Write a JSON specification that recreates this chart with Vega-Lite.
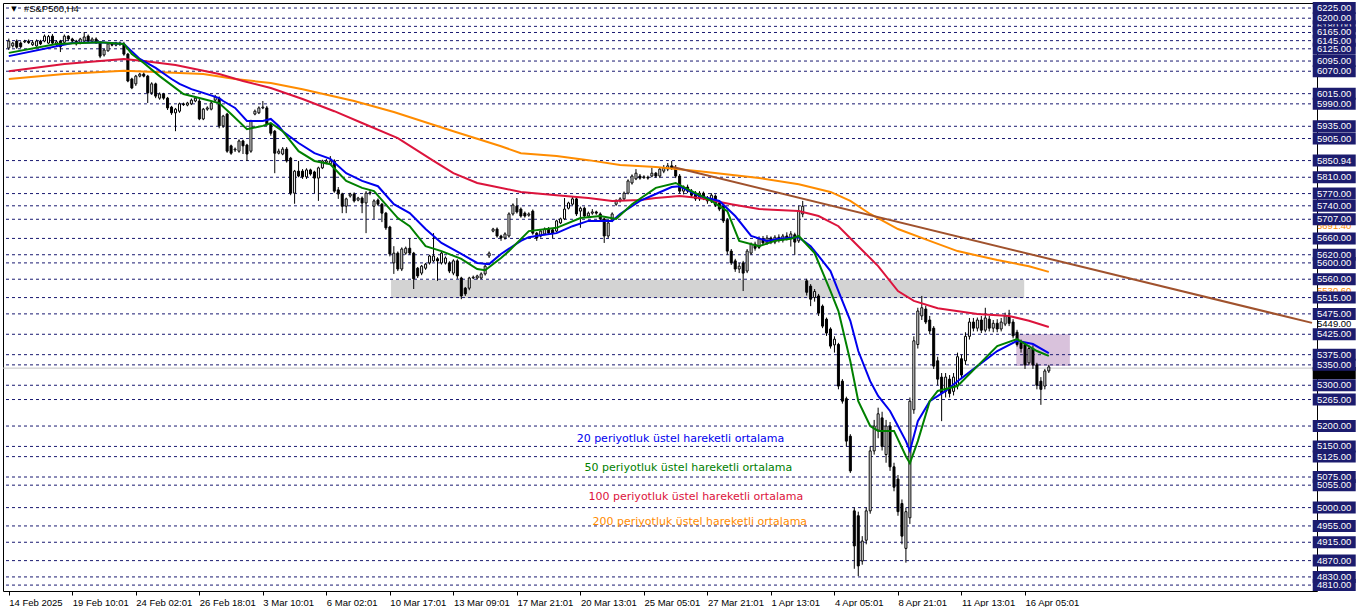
{
"$schema":"https://vega.github.io/schema/vega-lite/v6.json",
"width":1314,"height":588,
"padding":{"left":2,"top":2,"right":0,"bottom":0},
"autosize":{"type":"pad"},
"background":"white",
"config":{"view":{"stroke":"black","strokeWidth":1},"axisY":{"disable":true}},
"datasets":{
"zoneGray":[{"i":96.3,"i2":255.8,"p":5514,"p2":5558}],
"zonePurple":[{"i":253.8,"i2":267.3,"p":5347,"p2":5425}],
"levels":[{"p":6225,"t":"6225.00"},{"p":6200,"t":"6200.00"},{"p":6165,"t":"6165.00"},{"p":6145,"t":"6145.00"},{"p":6125,"t":"6125.00"},{"p":6095,"t":"6095.00"},{"p":6070,"t":"6070.00"},{"p":6015,"t":"6015.00"},{"p":5990,"t":"5990.00"},{"p":5935,"t":"5935.00"},{"p":5905,"t":"5905.00"},{"p":5850.94,"t":"5850.94"},{"p":5810,"t":"5810.00"},{"p":5770,"t":"5770.00"},{"p":5740,"t":"5740.00"},{"p":5707,"t":"5707.00"},{"p":5660,"t":"5660.00"},{"p":5620,"t":"5620.00"},{"p":5600,"t":"5600.00"},{"p":5560,"t":"5560.00"},{"p":5515,"t":"5515.00"},{"p":5475,"t":"5475.00"},{"p":5425,"t":"5425.00"},{"p":5375,"t":"5375.00"},{"p":5350,"t":"5350.00"},{"p":5300,"t":"5300.00"},{"p":5265,"t":"5265.00"},{"p":5200,"t":"5200.00"},{"p":5150,"t":"5150.00"},{"p":5125,"t":"5125.00"},{"p":5075,"t":"5075.00"},{"p":5055,"t":"5055.00"},{"p":5000,"t":"5000.00"},{"p":4955,"t":"4955.00"},{"p":4915,"t":"4915.00"},{"p":4870,"t":"4870.00"},{"p":4830,"t":"4830.00"},{"p":4810,"t":"4810.00"}],
"hidden":[{"p":6180,"t":"6180.00"}],
"bid":[{"p":5342}],
"cur":[{"p":5330}],
"oranget":[{"p":5691.4,"t":"5691.40"},{"p":5530.6,"t":"5530.60"}],
"blackt":[{"p":5449,"t":"5449.00"}],
"trend":[{"i":167.3,"p":5835},{"i":328.3,"p":5453}],
"ann":[{"i":143.05,"p":5168,"s":"e20","t":"20 periyotluk üstel hareketli ortalama"},{"i":145.05,"p":5097,"s":"e50","t":"50 periyotluk üstel hareketli ortalama"},{"i":146.05,"p":5026,"s":"e100","t":"100 periyotluk üstel hareketli ortalama"},{"i":147.05,"p":4965,"s":"e200","t":"200 periyotluk üstel hareketli ortalama"}],
"tri":[{"i":1.3,"p":6222.6,"t":"▼"}],
"ttl":[{"i":3.8,"p":6222.6,"t":"#S&P500,H4"}],
"ema":[
{"s":"e200","i":0,"v":6051},{"s":"e200","i":14,"v":6063},{"s":"e200","i":29,"v":6071},{"s":"e200","i":37,"v":6068},{"s":"e200","i":49,"v":6063},{"s":"e200","i":57,"v":6051},{"s":"e200","i":66,"v":6041},{"s":"e200","i":74,"v":6026},{"s":"e200","i":87,"v":5997},{"s":"e200","i":97,"v":5970},{"s":"e200","i":112,"v":5923},{"s":"e200","i":124,"v":5886},{"s":"e200","i":129,"v":5869},{"s":"e200","i":138,"v":5862},{"s":"e200","i":146,"v":5852},{"s":"e200","i":154,"v":5840},{"s":"e200","i":163,"v":5835},{"s":"e200","i":174,"v":5825},{"s":"e200","i":189,"v":5808},{"s":"e200","i":199,"v":5793},{"s":"e200","i":207,"v":5774},{"s":"e200","i":212,"v":5752},{"s":"e200","i":217,"v":5720},{"s":"e200","i":224,"v":5683},{"s":"e200","i":232,"v":5654},{"s":"e200","i":239,"v":5629},{"s":"e200","i":249,"v":5607},{"s":"e200","i":257,"v":5592},{"s":"e200","i":262,"v":5578},
{"s":"e100","i":0,"v":6070},{"s":"e100","i":14,"v":6088},{"s":"e100","i":29,"v":6100},{"s":"e100","i":34,"v":6095},{"s":"e100","i":42,"v":6085},{"s":"e100","i":53,"v":6063},{"s":"e100","i":59,"v":6046},{"s":"e100","i":66,"v":6029},{"s":"e100","i":74,"v":6002},{"s":"e100","i":82,"v":5972},{"s":"e100","i":89,"v":5943},{"s":"e100","i":98,"v":5906},{"s":"e100","i":107,"v":5850},{"s":"e100","i":112,"v":5820},{"s":"e100","i":118,"v":5796},{"s":"e100","i":122,"v":5788},{"s":"e100","i":129,"v":5774},{"s":"e100","i":138,"v":5766},{"s":"e100","i":146,"v":5759},{"s":"e100","i":152,"v":5752},{"s":"e100","i":159,"v":5754},{"s":"e100","i":163,"v":5759},{"s":"e100","i":169,"v":5764},{"s":"e100","i":174,"v":5759},{"s":"e100","i":182,"v":5744},{"s":"e100","i":189,"v":5732},{"s":"e100","i":199,"v":5727},{"s":"e100","i":204,"v":5715},{"s":"e100","i":209,"v":5690},{"s":"e100","i":214,"v":5641},{"s":"e100","i":219,"v":5592},{"s":"e100","i":224,"v":5531},{"s":"e100","i":228,"v":5507},{"s":"e100","i":234,"v":5489},{"s":"e100","i":244,"v":5475},{"s":"e100","i":252,"v":5470},{"s":"e100","i":257,"v":5458},{"s":"e100","i":262,"v":5443},
{"s":"e20","i":0,"v":6107},{"s":"e20","i":16,"v":6139},{"s":"e20","i":23,"v":6141},{"s":"e20","i":29,"v":6137},{"s":"e20","i":33,"v":6100},{"s":"e20","i":37,"v":6078},{"s":"e20","i":41,"v":6051},{"s":"e20","i":43,"v":6039},{"s":"e20","i":46,"v":6026},{"s":"e20","i":49,"v":6017},{"s":"e20","i":53,"v":6004},{"s":"e20","i":54,"v":5997},{"s":"e20","i":57,"v":5980},{"s":"e20","i":60,"v":5948},{"s":"e20","i":64,"v":5948},{"s":"e20","i":66,"v":5953},{"s":"e20","i":68,"v":5936},{"s":"e20","i":69,"v":5923},{"s":"e20","i":73,"v":5894},{"s":"e20","i":77,"v":5869},{"s":"e20","i":81,"v":5855},{"s":"e20","i":85,"v":5820},{"s":"e20","i":89,"v":5801},{"s":"e20","i":93,"v":5788},{"s":"e20","i":97,"v":5744},{"s":"e20","i":101,"v":5722},{"s":"e20","i":105,"v":5683},{"s":"e20","i":109,"v":5649},{"s":"e20","i":114,"v":5622},{"s":"e20","i":118,"v":5600},{"s":"e20","i":121,"v":5597},{"s":"e20","i":124,"v":5622},{"s":"e20","i":129,"v":5654},{"s":"e20","i":131,"v":5663},{"s":"e20","i":134,"v":5668},{"s":"e20","i":138,"v":5673},{"s":"e20","i":142,"v":5690},{"s":"e20","i":146,"v":5703},{"s":"e20","i":149,"v":5703},{"s":"e20","i":152,"v":5703},{"s":"e20","i":154,"v":5720},{"s":"e20","i":159,"v":5752},{"s":"e20","i":163,"v":5769},{"s":"e20","i":167,"v":5786},{"s":"e20","i":169,"v":5788},{"s":"e20","i":174,"v":5764},{"s":"e20","i":179,"v":5752},{"s":"e20","i":183,"v":5715},{"s":"e20","i":187,"v":5666},{"s":"e20","i":191,"v":5654},{"s":"e20","i":194,"v":5659},{"s":"e20","i":199,"v":5663},{"s":"e20","i":202,"v":5641},{"s":"e20","i":204,"v":5617},{"s":"e20","i":207,"v":5580},{"s":"e20","i":209,"v":5531},{"s":"e20","i":212,"v":5458},{"s":"e20","i":214,"v":5384},{"s":"e20","i":217,"v":5310},{"s":"e20","i":219,"v":5274},{"s":"e20","i":222,"v":5237},{"s":"e20","i":224,"v":5200},{"s":"e20","i":226,"v":5163},{"s":"e20","i":227,"v":5139},{"s":"e20","i":229,"v":5212},{"s":"e20","i":232,"v":5261},{"s":"e20","i":236,"v":5286},{"s":"e20","i":239,"v":5310},{"s":"e20","i":244,"v":5347},{"s":"e20","i":249,"v":5384},{"s":"e20","i":254,"v":5409},{"s":"e20","i":258,"v":5401},{"s":"e20","i":262,"v":5379},
{"s":"e50","i":0,"v":6115},{"s":"e50","i":12,"v":6137},{"s":"e50","i":23,"v":6141},{"s":"e50","i":29,"v":6137},{"s":"e50","i":31,"v":6112},{"s":"e50","i":34,"v":6090},{"s":"e50","i":37,"v":6066},{"s":"e50","i":38,"v":6058},{"s":"e50","i":44,"v":6014},{"s":"e50","i":49,"v":6002},{"s":"e50","i":53,"v":5992},{"s":"e50","i":56,"v":5965},{"s":"e50","i":60,"v":5928},{"s":"e50","i":64,"v":5936},{"s":"e50","i":66,"v":5943},{"s":"e50","i":69,"v":5923},{"s":"e50","i":73,"v":5874},{"s":"e50","i":77,"v":5850},{"s":"e50","i":81,"v":5842},{"s":"e50","i":85,"v":5801},{"s":"e50","i":89,"v":5784},{"s":"e50","i":92,"v":5776},{"s":"e50","i":98,"v":5710},{"s":"e50","i":101,"v":5690},{"s":"e50","i":105,"v":5641},{"s":"e50","i":109,"v":5629},{"s":"e50","i":114,"v":5610},{"s":"e50","i":118,"v":5585},{"s":"e50","i":120,"v":5582},{"s":"e50","i":124,"v":5612},{"s":"e50","i":126,"v":5629},{"s":"e50","i":131,"v":5678},{"s":"e50","i":138,"v":5686},{"s":"e50","i":144,"v":5710},{"s":"e50","i":149,"v":5715},{"s":"e50","i":153,"v":5708},{"s":"e50","i":157,"v":5744},{"s":"e50","i":163,"v":5784},{"s":"e50","i":168,"v":5796},{"s":"e50","i":172,"v":5776},{"s":"e50","i":177,"v":5752},{"s":"e50","i":181,"v":5727},{"s":"e50","i":184,"v":5654},{"s":"e50","i":189,"v":5641},{"s":"e50","i":193,"v":5654},{"s":"e50","i":197,"v":5659},{"s":"e50","i":199,"v":5666},{"s":"e50","i":203,"v":5624},{"s":"e50","i":207,"v":5531},{"s":"e50","i":209,"v":5482},{"s":"e50","i":212,"v":5359},{"s":"e50","i":214,"v":5261},{"s":"e50","i":217,"v":5200},{"s":"e50","i":219,"v":5188},{"s":"e50","i":223,"v":5188},{"s":"e50","i":226,"v":5126},{"s":"e50","i":227,"v":5109},{"s":"e50","i":229,"v":5163},{"s":"e50","i":232,"v":5261},{"s":"e50","i":234,"v":5286},{"s":"e50","i":239,"v":5298},{"s":"e50","i":244,"v":5347},{"s":"e50","i":249,"v":5396},{"s":"e50","i":254,"v":5413},{"s":"e50","i":259,"v":5384},{"s":"e50","i":262,"v":5372}
],
"candles":[
{"i":0,"o":6127,"h":6150,"l":6122,"c":6144},{"i":1,"o":6132,"h":6142,"l":6128,"c":6139},{"i":2,"o":6144,"h":6148,"l":6125,"c":6129},{"i":3,"o":6139,"h":6143,"l":6127,"c":6130},{"i":4,"o":6142,"h":6147,"l":6139,"c":6144},{"i":5,"o":6144,"h":6148,"l":6137,"c":6140},{"i":6,"o":6135,"h":6146,"l":6132,"c":6140},{"i":7,"o":6132,"h":6148,"l":6130,"c":6144},{"i":8,"o":6144,"h":6147,"l":6134,"c":6137},{"i":9,"o":6144,"h":6160,"l":6141,"c":6156},
{"i":10,"o":6139,"h":6159,"l":6137,"c":6155},{"i":11,"o":6156,"h":6161,"l":6135,"c":6139},{"i":12,"o":6137,"h":6146,"l":6132,"c":6142},{"i":13,"o":6144,"h":6147,"l":6117,"c":6130},{"i":14,"o":6141,"h":6160,"l":6138,"c":6156},{"i":15,"o":6156,"h":6158,"l":6145,"c":6149},{"i":16,"o":6149,"h":6152,"l":6140,"c":6144},{"i":17,"o":6144,"h":6147,"l":6133,"c":6137},{"i":18,"o":6139,"h":6152,"l":6136,"c":6149},{"i":19,"o":6144,"h":6166,"l":6140,"c":6154},
{"i":20,"o":6156,"h":6160,"l":6140,"c":6144},{"i":21,"o":6144,"h":6153,"l":6140,"c":6149},{"i":22,"o":6149,"h":6153,"l":6137,"c":6140},{"i":23,"o":6139,"h":6143,"l":6102,"c":6107},{"i":24,"o":6110,"h":6125,"l":6106,"c":6122},{"i":25,"o":6120,"h":6140,"l":6118,"c":6137},{"i":26,"o":6137,"h":6141,"l":6131,"c":6134},{"i":27,"o":6134,"h":6142,"l":6131,"c":6139},{"i":28,"o":6139,"h":6143,"l":6132,"c":6136},{"i":29,"o":6137,"h":6142,"l":6108,"c":6112},
{"i":30,"o":6112,"h":6115,"l":6043,"c":6046},{"i":31,"o":6051,"h":6054,"l":6026,"c":6029},{"i":32,"o":6039,"h":6061,"l":6034,"c":6058},{"i":33,"o":6058,"h":6066,"l":6055,"c":6063},{"i":34,"o":6063,"h":6067,"l":6055,"c":6058},{"i":35,"o":6058,"h":6061,"l":5992,"c":6017},{"i":36,"o":6017,"h":6043,"l":6012,"c":6039},{"i":37,"o":6039,"h":6042,"l":6004,"c":6009},{"i":38,"o":6004,"h":6018,"l":6000,"c":6014},{"i":39,"o":6014,"h":6017,"l":6000,"c":6004},
{"i":40,"o":6004,"h":6007,"l":5975,"c":5980},{"i":41,"o":5982,"h":5985,"l":5963,"c":5968},{"i":42,"o":5968,"h":5980,"l":5923,"c":5977},{"i":43,"o":5972,"h":5993,"l":5968,"c":5990},{"i":44,"o":5990,"h":5993,"l":5985,"c":5988},{"i":45,"o":5987,"h":5995,"l":5984,"c":5992},{"i":46,"o":5990,"h":6003,"l":5987,"c":5999},{"i":47,"o":5997,"h":6008,"l":5994,"c":6004},{"i":48,"o":5997,"h":6002,"l":5950,"c":5953},{"i":49,"o":5953,"h":5980,"l":5950,"c":5977},
{"i":50,"o":5977,"h":5984,"l":5973,"c":5980},{"i":51,"o":5977,"h":5996,"l":5974,"c":5992},{"i":52,"o":5999,"h":6012,"l":5996,"c":6007},{"i":53,"o":6004,"h":6008,"l":5930,"c":5936},{"i":54,"o":5936,"h":5963,"l":5931,"c":5960},{"i":55,"o":5965,"h":5968,"l":5870,"c":5874},{"i":56,"o":5887,"h":5890,"l":5865,"c":5869},{"i":57,"o":5877,"h":5883,"l":5872,"c":5879},{"i":58,"o":5874,"h":5903,"l":5870,"c":5899},{"i":59,"o":5899,"h":5902,"l":5867,"c":5887},
{"i":60,"o":5889,"h":5892,"l":5850,"c":5867},{"i":61,"o":5874,"h":5951,"l":5870,"c":5948},{"i":62,"o":5965,"h":5976,"l":5962,"c":5972},{"i":63,"o":5968,"h":5984,"l":5965,"c":5980},{"i":64,"o":5980,"h":5997,"l":5977,"c":5982},{"i":65,"o":5980,"h":5985,"l":5936,"c":5941},{"i":66,"o":5941,"h":5944,"l":5912,"c":5918},{"i":67,"o":5923,"h":5926,"l":5820,"c":5869},{"i":68,"o":5869,"h":5880,"l":5866,"c":5874},{"i":69,"o":5867,"h":5884,"l":5864,"c":5879},
{"i":70,"o":5879,"h":5884,"l":5846,"c":5850},{"i":71,"o":5857,"h":5860,"l":5766,"c":5771},{"i":72,"o":5771,"h":5828,"l":5745,"c":5825},{"i":73,"o":5825,"h":5850,"l":5810,"c":5813},{"i":74,"o":5825,"h":5830,"l":5806,"c":5811},{"i":75,"o":5811,"h":5832,"l":5806,"c":5828},{"i":76,"o":5828,"h":5831,"l":5814,"c":5818},{"i":77,"o":5823,"h":5826,"l":5771,"c":5808},{"i":78,"o":5808,"h":5836,"l":5752,"c":5833},{"i":79,"o":5833,"h":5853,"l":5830,"c":5850},
{"i":80,"o":5846,"h":5855,"l":5842,"c":5850},{"i":81,"o":5843,"h":5862,"l":5840,"c":5850},{"i":82,"o":5850,"h":5854,"l":5772,"c":5776},{"i":83,"o":5779,"h":5786,"l":5757,"c":5769},{"i":84,"o":5769,"h":5772,"l":5722,"c":5739},{"i":85,"o":5739,"h":5760,"l":5722,"c":5757},{"i":86,"o":5764,"h":5772,"l":5760,"c":5769},{"i":87,"o":5769,"h":5773,"l":5748,"c":5752},{"i":88,"o":5754,"h":5762,"l":5751,"c":5759},{"i":89,"o":5759,"h":5763,"l":5722,"c":5747},
{"i":90,"o":5747,"h":5776,"l":5673,"c":5771},{"i":91,"o":5771,"h":5778,"l":5766,"c":5773},{"i":92,"o":5739,"h":5756,"l":5708,"c":5752},{"i":93,"o":5754,"h":5758,"l":5740,"c":5744},{"i":94,"o":5744,"h":5747,"l":5700,"c":5722},{"i":95,"o":5722,"h":5725,"l":5681,"c":5686},{"i":96,"o":5688,"h":5691,"l":5616,"c":5622},{"i":97,"o":5600,"h":5641,"l":5573,"c":5624},{"i":98,"o":5624,"h":5628,"l":5580,"c":5585},{"i":99,"o":5585,"h":5638,"l":5580,"c":5634},
{"i":100,"o":5624,"h":5640,"l":5620,"c":5636},{"i":101,"o":5636,"h":5660,"l":5620,"c":5624},{"i":102,"o":5624,"h":5627,"l":5536,"c":5561},{"i":103,"o":5587,"h":5590,"l":5563,"c":5568},{"i":104,"o":5575,"h":5595,"l":5570,"c":5592},{"i":105,"o":5587,"h":5600,"l":5583,"c":5597},{"i":106,"o":5600,"h":5620,"l":5596,"c":5617},{"i":107,"o":5605,"h":5673,"l":5602,"c":5617},{"i":108,"o":5610,"h":5614,"l":5556,"c":5605},{"i":109,"o":5600,"h":5628,"l":5596,"c":5624},
{"i":110,"o":5600,"h":5616,"l":5596,"c":5612},{"i":111,"o":5600,"h":5604,"l":5575,"c":5580},{"i":112,"o":5575,"h":5609,"l":5570,"c":5605},{"i":113,"o":5605,"h":5609,"l":5561,"c":5568},{"i":114,"o":5563,"h":5566,"l":5511,"c":5519},{"i":115,"o":5538,"h":5541,"l":5519,"c":5524},{"i":116,"o":5538,"h":5566,"l":5533,"c":5563},{"i":117,"o":5563,"h":5569,"l":5560,"c":5565},{"i":118,"o":5563,"h":5571,"l":5559,"c":5568},{"i":119,"o":5563,"h":5577,"l":5560,"c":5573},
{"i":120,"o":5573,"h":5596,"l":5569,"c":5592},{"i":121,"o":5617,"h":5628,"l":5612,"c":5624},{"i":122,"o":5678,"h":5686,"l":5675,"c":5683},{"i":123,"o":5683,"h":5687,"l":5662,"c":5666},{"i":124,"o":5666,"h":5669,"l":5654,"c":5661},{"i":125,"o":5661,"h":5675,"l":5657,"c":5671},{"i":126,"o":5666,"h":5724,"l":5662,"c":5720},{"i":127,"o":5720,"h":5746,"l":5716,"c":5742},{"i":128,"o":5739,"h":5759,"l":5721,"c":5725},{"i":129,"o":5732,"h":5736,"l":5711,"c":5715},
{"i":130,"o":5722,"h":5726,"l":5711,"c":5715},{"i":131,"o":5717,"h":5724,"l":5713,"c":5720},{"i":132,"o":5727,"h":5731,"l":5669,"c":5673},{"i":133,"o":5673,"h":5676,"l":5654,"c":5661},{"i":134,"o":5666,"h":5683,"l":5662,"c":5678},{"i":135,"o":5671,"h":5687,"l":5668,"c":5683},{"i":136,"o":5683,"h":5688,"l":5669,"c":5673},{"i":137,"o":5681,"h":5685,"l":5661,"c":5673},{"i":138,"o":5678,"h":5706,"l":5675,"c":5703},{"i":139,"o":5698,"h":5711,"l":5695,"c":5708},
{"i":140,"o":5708,"h":5759,"l":5705,"c":5732},{"i":141,"o":5734,"h":5750,"l":5731,"c":5747},{"i":142,"o":5744,"h":5762,"l":5741,"c":5757},{"i":143,"o":5757,"h":5761,"l":5715,"c":5720},{"i":144,"o":5727,"h":5738,"l":5686,"c":5734},{"i":145,"o":5734,"h":5738,"l":5711,"c":5715},{"i":146,"o":5715,"h":5726,"l":5712,"c":5722},{"i":147,"o":5722,"h":5732,"l":5718,"c":5725},{"i":148,"o":5725,"h":5728,"l":5718,"c":5722},{"i":149,"o":5720,"h":5724,"l":5704,"c":5708},
{"i":150,"o":5708,"h":5711,"l":5649,"c":5666},{"i":151,"o":5666,"h":5701,"l":5661,"c":5698},{"i":152,"o":5705,"h":5724,"l":5700,"c":5720},{"i":153,"o":5744,"h":5756,"l":5740,"c":5752},{"i":154,"o":5752,"h":5761,"l":5748,"c":5757},{"i":155,"o":5757,"h":5775,"l":5753,"c":5771},{"i":156,"o":5771,"h":5805,"l":5768,"c":5801},{"i":157,"o":5796,"h":5817,"l":5792,"c":5813},{"i":158,"o":5806,"h":5830,"l":5803,"c":5820},{"i":159,"o":5813,"h":5818,"l":5804,"c":5808},
{"i":160,"o":5809,"h":5815,"l":5806,"c":5811},{"i":161,"o":5810,"h":5814,"l":5804,"c":5808},{"i":162,"o":5813,"h":5833,"l":5810,"c":5820},{"i":163,"o":5820,"h":5823,"l":5809,"c":5813},{"i":164,"o":5813,"h":5835,"l":5808,"c":5830},{"i":165,"o":5825,"h":5840,"l":5820,"c":5833},{"i":166,"o":5830,"h":5845,"l":5825,"c":5838},{"i":167,"o":5838,"h":5850,"l":5828,"c":5833},{"i":168,"o":5833,"h":5840,"l":5808,"c":5813},{"i":169,"o":5813,"h":5818,"l":5770,"c":5776},
{"i":170,"o":5776,"h":5790,"l":5768,"c":5786},{"i":171,"o":5786,"h":5792,"l":5771,"c":5776},{"i":172,"o":5776,"h":5781,"l":5760,"c":5766},{"i":173,"o":5771,"h":5776,"l":5752,"c":5757},{"i":174,"o":5757,"h":5776,"l":5752,"c":5771},{"i":175,"o":5771,"h":5775,"l":5754,"c":5759},{"i":176,"o":5759,"h":5764,"l":5745,"c":5752},{"i":177,"o":5752,"h":5771,"l":5747,"c":5766},{"i":178,"o":5764,"h":5768,"l":5737,"c":5742},{"i":179,"o":5747,"h":5752,"l":5727,"c":5732},
{"i":180,"o":5739,"h":5744,"l":5698,"c":5703},{"i":181,"o":5705,"h":5710,"l":5620,"c":5629},{"i":182,"o":5629,"h":5634,"l":5595,"c":5600},{"i":183,"o":5605,"h":5610,"l":5578,"c":5585},{"i":184,"o":5585,"h":5600,"l":5575,"c":5592},{"i":185,"o":5600,"h":5605,"l":5531,"c":5575},{"i":186,"o":5580,"h":5634,"l":5575,"c":5629},{"i":187,"o":5624,"h":5650,"l":5620,"c":5646},{"i":188,"o":5646,"h":5652,"l":5630,"c":5636},{"i":189,"o":5638,"h":5665,"l":5634,"c":5659},
{"i":190,"o":5659,"h":5666,"l":5645,"c":5649},{"i":191,"o":5649,"h":5668,"l":5644,"c":5661},{"i":192,"o":5661,"h":5665,"l":5646,"c":5651},{"i":193,"o":5651,"h":5668,"l":5646,"c":5663},{"i":194,"o":5663,"h":5670,"l":5650,"c":5656},{"i":195,"o":5656,"h":5671,"l":5650,"c":5666},{"i":196,"o":5666,"h":5675,"l":5655,"c":5660},{"i":197,"o":5660,"h":5678,"l":5640,"c":5671},{"i":198,"o":5669,"h":5674,"l":5620,"c":5651},{"i":199,"o":5654,"h":5740,"l":5649,"c":5727},
{"i":200,"o":5720,"h":5752,"l":5712,"c":5739},{"i":201,"o":5556,"h":5561,"l":5520,"c":5528},{"i":202,"o":5543,"h":5548,"l":5494,"c":5511},{"i":203,"o":5515,"h":5536,"l":5505,"c":5530},{"i":204,"o":5519,"h":5524,"l":5470,"c":5477},{"i":205,"o":5494,"h":5498,"l":5440,"c":5445},{"i":206,"o":5462,"h":5466,"l":5421,"c":5428},{"i":207,"o":5438,"h":5442,"l":5390,"c":5396},{"i":208,"o":5399,"h":5420,"l":5380,"c":5413},{"i":209,"o":5400,"h":5404,"l":5290,"c":5298},
{"i":210,"o":5310,"h":5315,"l":5255,"c":5261},{"i":211,"o":5267,"h":5272,"l":5150,"c":5163},{"i":212,"o":5175,"h":5180,"l":5085,"c":5090},{"i":213,"o":4992,"h":5000,"l":4850,"c":4906},{"i":214,"o":4980,"h":4990,"l":4832,"c":4857},{"i":215,"o":4869,"h":4930,"l":4860,"c":4918},{"i":216,"o":4920,"h":5000,"l":4910,"c":4992},{"i":217,"o":4992,"h":5150,"l":4985,"c":5139},{"i":218,"o":5139,"h":5215,"l":5130,"c":5200},{"i":219,"o":5190,"h":5245,"l":5170,"c":5230},
{"i":220,"o":5220,"h":5235,"l":5140,"c":5150},{"i":221,"o":5130,"h":5215,"l":5110,"c":5200},{"i":222,"o":5200,"h":5210,"l":5090,"c":5100},{"i":223,"o":5100,"h":5110,"l":5040,"c":5050},{"i":224,"o":5070,"h":5080,"l":4980,"c":4990},{"i":225,"o":5010,"h":5020,"l":4910,"c":4930},{"i":226,"o":4900,"h":5000,"l":4865,"c":4990},{"i":227,"o":4975,"h":5270,"l":4960,"c":5261},{"i":228,"o":5240,"h":5420,"l":5230,"c":5409},{"i":229,"o":5400,"h":5490,"l":5390,"c":5482},
{"i":230,"o":5470,"h":5519,"l":5460,"c":5490},{"i":231,"o":5487,"h":5495,"l":5450,"c":5455},{"i":232,"o":5460,"h":5470,"l":5425,"c":5433},{"i":233,"o":5440,"h":5445,"l":5340,"c":5347},{"i":234,"o":5360,"h":5370,"l":5300,"c":5315},{"i":235,"o":5320,"h":5330,"l":5212,"c":5280},{"i":236,"o":5285,"h":5330,"l":5270,"c":5320},{"i":237,"o":5315,"h":5325,"l":5270,"c":5280},{"i":238,"o":5285,"h":5330,"l":5275,"c":5320},{"i":239,"o":5300,"h":5380,"l":5290,"c":5370},
{"i":240,"o":5365,"h":5375,"l":5315,"c":5325},{"i":241,"o":5360,"h":5430,"l":5350,"c":5420},{"i":242,"o":5420,"h":5465,"l":5412,"c":5455},{"i":243,"o":5455,"h":5465,"l":5432,"c":5440},{"i":244,"o":5440,"h":5466,"l":5432,"c":5460},{"i":245,"o":5460,"h":5470,"l":5428,"c":5435},{"i":246,"o":5435,"h":5490,"l":5430,"c":5465},{"i":247,"o":5462,"h":5470,"l":5432,"c":5440},{"i":248,"o":5440,"h":5460,"l":5430,"c":5452},{"i":249,"o":5452,"h":5462,"l":5430,"c":5438},
{"i":250,"o":5438,"h":5465,"l":5432,"c":5455},{"i":251,"o":5450,"h":5478,"l":5445,"c":5470},{"i":252,"o":5468,"h":5485,"l":5445,"c":5452},{"i":253,"o":5455,"h":5462,"l":5415,"c":5421},{"i":254,"o":5430,"h":5436,"l":5395,"c":5400},{"i":255,"o":5405,"h":5412,"l":5380,"c":5390},{"i":256,"o":5400,"h":5405,"l":5340,"c":5350},{"i":257,"o":5355,"h":5398,"l":5350,"c":5390},{"i":258,"o":5390,"h":5398,"l":5340,"c":5350},{"i":259,"o":5350,"h":5355,"l":5290,"c":5300},
{"i":260,"o":5310,"h":5320,"l":5252,"c":5290},{"i":261,"o":5298,"h":5340,"l":5290,"c":5335},{"i":262,"o":5335,"h":5350,"l":5330,"c":5345}
]
},
"layer":[
{"data":{"name":"zoneGray"},"mark":{"type":"rect","color":"#d3d3d3"},
 "encoding":{
  "x":{"field":"i","type":"quantitative","scale":{"domain":[-0.2,328.3],"nice":false,"zero":false},
   "axis":{"values":[0,16,32,48,64,80,96,112,128,144,160,176,192,208,224,240,256],
    "labelExpr":"['14 Feb 2025','19 Feb 10:01','24 Feb 02:01','26 Feb 18:01','3 Mar 10:01','6 Mar 02:01','10 Mar 17:01','13 Mar 09:01','17 Mar 21:01','20 Mar 13:01','25 Mar 05:01','27 Mar 21:01','1 Apr 13:01','4 Apr 05:01','8 Apr 21:01','11 Apr 13:01','16 Apr 05:01'][round(datum.value/16)]",
    "title":null,"grid":false,"domain":false,"ticks":true,"tickSize":4,"tickColor":"black","labelAlign":"left","labelBaseline":"top","labelPadding":2,"labelFont":"Liberation Sans","labelFontSize":9.5,"labelColor":"black","labelOverlap":false,"labelFlush":false}},
  "x2":{"field":"i2"},
  "y":{"field":"p","type":"quantitative","scale":{"domain":[4795.5,6237.3],"nice":false,"zero":false},"axis":null},
  "y2":{"field":"p2"}}},
{"data":{"name":"zonePurple"},"mark":{"type":"rect","color":"#d9c2dc"},
 "encoding":{"x":{"field":"i","type":"quantitative","title":null},"x2":{"field":"i2"},"y":{"field":"p","type":"quantitative","axis":null},"y2":{"field":"p2"}}},
{"data":{"name":"levels"},"mark":{"type":"rule","color":"#191970","strokeWidth":1,"strokeDash":[3,3]},
 "encoding":{"y":{"field":"p","type":"quantitative","axis":null}}},
{"data":{"name":"hidden"},"mark":{"type":"rule","color":"#191970","strokeWidth":1,"strokeDash":[3,3]},
 "encoding":{"y":{"field":"p","type":"quantitative","axis":null}}},
{"data":{"name":"bid"},"mark":{"type":"rule","color":"#c0c0c0","strokeWidth":1},
 "encoding":{"y":{"field":"p","type":"quantitative","axis":null}}},
{"data":{"name":"candles"},"mark":{"type":"rule","color":"black","strokeWidth":1},
 "encoding":{"x":{"field":"i","type":"quantitative","title":null},"y":{"field":"l","type":"quantitative","axis":null},"y2":{"field":"h"}}},
{"data":{"name":"candles"},"mark":{"type":"bar","size":2,"stroke":"black","strokeWidth":1},
 "encoding":{"x":{"field":"i","type":"quantitative","title":null},"y":{"field":"o","type":"quantitative","axis":null},"y2":{"field":"c"},
  "fill":{"condition":{"test":"datum.c >= datum.o","value":"#ffffff"},"value":"#000000"}}},
{"data":{"name":"ema"},"mark":{"type":"line","strokeWidth":2},
 "encoding":{"x":{"field":"i","type":"quantitative","title":null},"y":{"field":"v","type":"quantitative","axis":null},
  "color":{"field":"s","type":"nominal","scale":{"domain":["e20","e50","e100","e200"],"range":["#0000ee","#008000","#dc143c","#ff8c00"]},"legend":null}}},
{"data":{"name":"trend"},"mark":{"type":"line","color":"#a0522d","strokeWidth":2},
 "encoding":{"x":{"field":"i","type":"quantitative","title":null},"y":{"field":"p","type":"quantitative","axis":null}}},
{"data":{"name":"ann"},"mark":{"type":"text","align":"left","baseline":"middle","font":"DejaVu Sans","fontSize":11},
 "encoding":{"x":{"field":"i","type":"quantitative","title":null},"y":{"field":"p","type":"quantitative","axis":null},"text":{"field":"t"},
  "color":{"field":"s","type":"nominal","legend":null}}},
{"data":{"name":"tri"},"mark":{"type":"text","align":"center","baseline":"middle","font":"DejaVu Sans","fontSize":7,"color":"black"},
 "encoding":{"x":{"field":"i","type":"quantitative","title":null},"y":{"field":"p","type":"quantitative","axis":null},"text":{"field":"t"}}},
{"data":{"name":"ttl"},"mark":{"type":"text","align":"left","baseline":"middle","font":"Liberation Sans","fontSize":9.5,"color":"black"},
 "encoding":{"x":{"field":"i","type":"quantitative","title":null},"y":{"field":"p","type":"quantitative","axis":null},"text":{"field":"t"}}},
{"data":{"name":"oranget"},"mark":{"type":"text","align":"center","baseline":"middle","font":"Liberation Sans","fontSize":9.5,"color":"#ff8c00"},
 "encoding":{"x":{"datum":333.9,"type":"quantitative"},"y":{"field":"p","type":"quantitative","axis":null},"text":{"field":"t"}}},
{"data":{"name":"hidden"},"mark":{"type":"tick","orient":"horizontal","size":43,"thickness":12,"color":"#1c1c6e","opacity":1},
 "encoding":{"x":{"datum":333.9,"type":"quantitative"},"y":{"field":"p","type":"quantitative","axis":null}}},
{"data":{"name":"hidden"},"mark":{"type":"text","align":"center","baseline":"middle","font":"Liberation Sans","fontSize":9.5,"color":"white"},
 "encoding":{"x":{"datum":333.9,"type":"quantitative"},"y":{"field":"p","type":"quantitative","axis":null},"text":{"field":"t"}}},
{"data":{"name":"cur"},"mark":{"type":"tick","orient":"horizontal","size":43,"thickness":12,"color":"black","opacity":1},
 "encoding":{"x":{"datum":333.9,"type":"quantitative"},"y":{"field":"p","type":"quantitative","axis":null}}},
{"data":{"name":"levels"},"mark":{"type":"tick","orient":"horizontal","size":43,"thickness":12,"color":"#1c1c6e","opacity":1},
 "encoding":{"x":{"datum":333.9,"type":"quantitative"},"y":{"field":"p","type":"quantitative","axis":null}}},
{"data":{"name":"levels"},"mark":{"type":"text","align":"center","baseline":"middle","font":"Liberation Sans","fontSize":9.5,"color":"white"},
 "encoding":{"x":{"datum":333.9,"type":"quantitative"},"y":{"field":"p","type":"quantitative","axis":null},"text":{"field":"t"}}},
{"data":{"name":"blackt"},"mark":{"type":"text","align":"center","baseline":"middle","font":"Liberation Sans","fontSize":9.5,"color":"black"},
 "encoding":{"x":{"datum":333.9,"type":"quantitative"},"y":{"field":"p","type":"quantitative","axis":null},"text":{"field":"t"}}}
]
}
